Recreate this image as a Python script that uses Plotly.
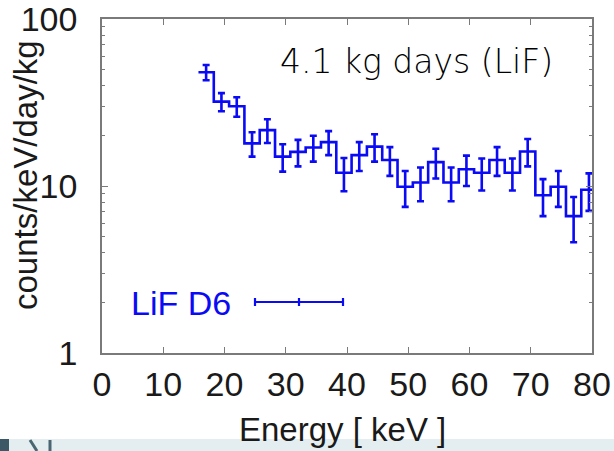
import numpy as np
import plotly.graph_objects as go

# ---- data ----
energy_keV = [17, 19.5, 22, 24.5, 27, 29.5, 32, 34.5, 37, 39.5, 42, 44.5, 47,
              49.5, 52, 54.5, 57, 59.5, 62, 64.5, 67, 69.5, 72, 74.5, 77, 79.5]
rate = [48, 32, 30, 18, 21.6, 15, 16, 17, 18.3, 12, 15.3, 17.2, 14.3,
        9.9, 10.5, 13.9, 10.5, 12.6, 12.0, 14.3, 12.0, 16.1, 8.8, 9.9, 6.6, 9.5]
rate_err = [5, 4, 4, 3, 3.5, 2.8, 2.9, 3, 3, 2.7, 3, 3.2, 2.8,
            2.4, 2.4, 2.8, 2.4, 2.6, 2.6, 2.8, 2.6, 3, 2.2, 2.4, 2.0, 2.4]
series_name = "LiF D6"
exposure_label = "4.1 kg days (LiF)"
x_ticks = [0, 10, 20, 30, 40, 50, 60, 70, 80]
y_ticks = [1, 10, 100]

BLUE = "#0a0af5"
GRAY = "#7a7a7a"
W, H = 614, 451
L, R, T, B = 102, 22, 19, 98
pw, ph = W - L - R, H - T - B

def px(x):   # pixel x -> paper
    return (x - L) / pw

def py(y):   # pixel y -> paper
    return (H - B - y) / ph

centers = np.array(energy_keV, dtype=float)
vals = np.array(rate, dtype=float)
half = np.diff(centers).mean() / 2.0
edges = np.append(centers - half, centers[-1] + half)
step_y = np.append(vals, vals[-1])

fig = go.Figure()
fig.add_trace(go.Scatter(
    x=edges, y=step_y, mode="lines", line=dict(color=BLUE, width=2.6, shape="hv"),
    showlegend=False, hoverinfo="skip"))
fig.add_trace(go.Scatter(
    x=centers, y=vals, mode="markers", marker=dict(size=1, color=BLUE),
    error_y=dict(type="data", array=rate_err, visible=True, color=BLUE,
                 thickness=2.6, width=3.5),
    showlegend=False, name=series_name))

FONT = "Liberation Sans, Arial, sans-serif"
tick_font = dict(family=FONT, size=34, color="#1a1a1a")

fig.update_layout(
    width=W, height=H,
    margin=dict(l=L, r=R, t=T, b=B, pad=0, autoexpand=False),
    paper_bgcolor="white", plot_bgcolor="white",
    showlegend=False,
    xaxis=dict(range=[0, 80], tickvals=x_ticks, ticktext=[str(v) for v in x_ticks],
               ticks="inside", ticklen=6, tickwidth=1.2, tickcolor=GRAY,
               showline=True, linecolor=GRAY, linewidth=1.6, mirror="ticks",
               showgrid=False, zeroline=False, tickfont=tick_font,
               automargin=False, ticklabelstandoff=0, ticklabeloverflow="allow"),
    yaxis=dict(type="log", range=[0, 2], tickvals=y_ticks,
               ticktext=[str(v) for v in y_ticks],
               ticks="inside", ticklen=6, tickwidth=1.2, tickcolor=GRAY,
               minor=dict(ticks="inside", ticklen=3, tickwidth=1.0, tickcolor=GRAY,
                          dtick="D1", showgrid=False),
               showline=True, linecolor=GRAY, linewidth=1.6, mirror="ticks",
               showgrid=False, zeroline=False, tickfont=tick_font,
               automargin=False, ticklabelstandoff=16, ticklabeloverflow="allow"),
)

# axis titles
fig.add_annotation(text="counts/keV/day/kg", xref="paper", yref="paper",
                   x=px(25), y=py(175), textangle=-90, showarrow=False,
                   xanchor="center", yanchor="middle",
                   font=dict(family=FONT, size=33, color="#1a1a1a"))
fig.add_annotation(text="Energy [ keV ]", xref="paper", yref="paper",
                   x=px(342), y=py(429), showarrow=False,
                   xanchor="center", yanchor="middle",
                   font=dict(family=FONT, size=33, color="#1a1a1a"))

# exposure label
fig.add_annotation(text=exposure_label, xref="paper", yref="paper",
                   x=px(416), y=py(62), showarrow=False,
                   xanchor="center", yanchor="middle",
                   font=dict(family="DejaVu Sans, sans-serif", size=33,
                             color="#000000", weight=200))

# key: label + errorbar sample
fig.add_annotation(text=series_name, xref="paper", yref="paper",
                   x=px(233), y=py(303), showarrow=False,
                   xanchor="right", yanchor="middle",
                   font=dict(family=FONT, size=34, color=BLUE))
ky = py(302)
tick_h = 4 / ph
fig.add_shape(type="line", xref="paper", yref="paper", x0=px(255), x1=px(343),
              y0=ky, y1=ky, line=dict(color=BLUE, width=2.2))
for kx in (255, 299, 343):
    fig.add_shape(type="line", xref="paper", yref="paper", x0=px(kx), x1=px(kx),
                  y0=ky - tick_h, y1=ky + tick_h, line=dict(color=BLUE, width=2.2))

# slide band at the bottom
fig.add_shape(type="rect", xref="paper", yref="paper", layer="below",
              x0=px(0), x1=px(W), y0=py(H), y1=py(439),
              fillcolor="#e4eef0", line=dict(width=0))
fig.add_shape(type="rect", xref="paper", yref="paper", layer="below",
              x0=px(0), x1=px(9), y0=py(H), y1=py(439),
              fillcolor="#3c5866", line=dict(width=0))
fig.add_shape(type="line", xref="paper", yref="paper", layer="below",
              x0=px(30), x1=px(37), y0=py(440), y1=py(H),
              line=dict(color="#4a6672", width=3))
fig.add_shape(type="line", xref="paper", yref="paper", layer="below",
              x0=px(50), x1=px(50), y0=py(440), y1=py(H),
              line=dict(color="#4a6672", width=3))

fig.write_html("out.html")
